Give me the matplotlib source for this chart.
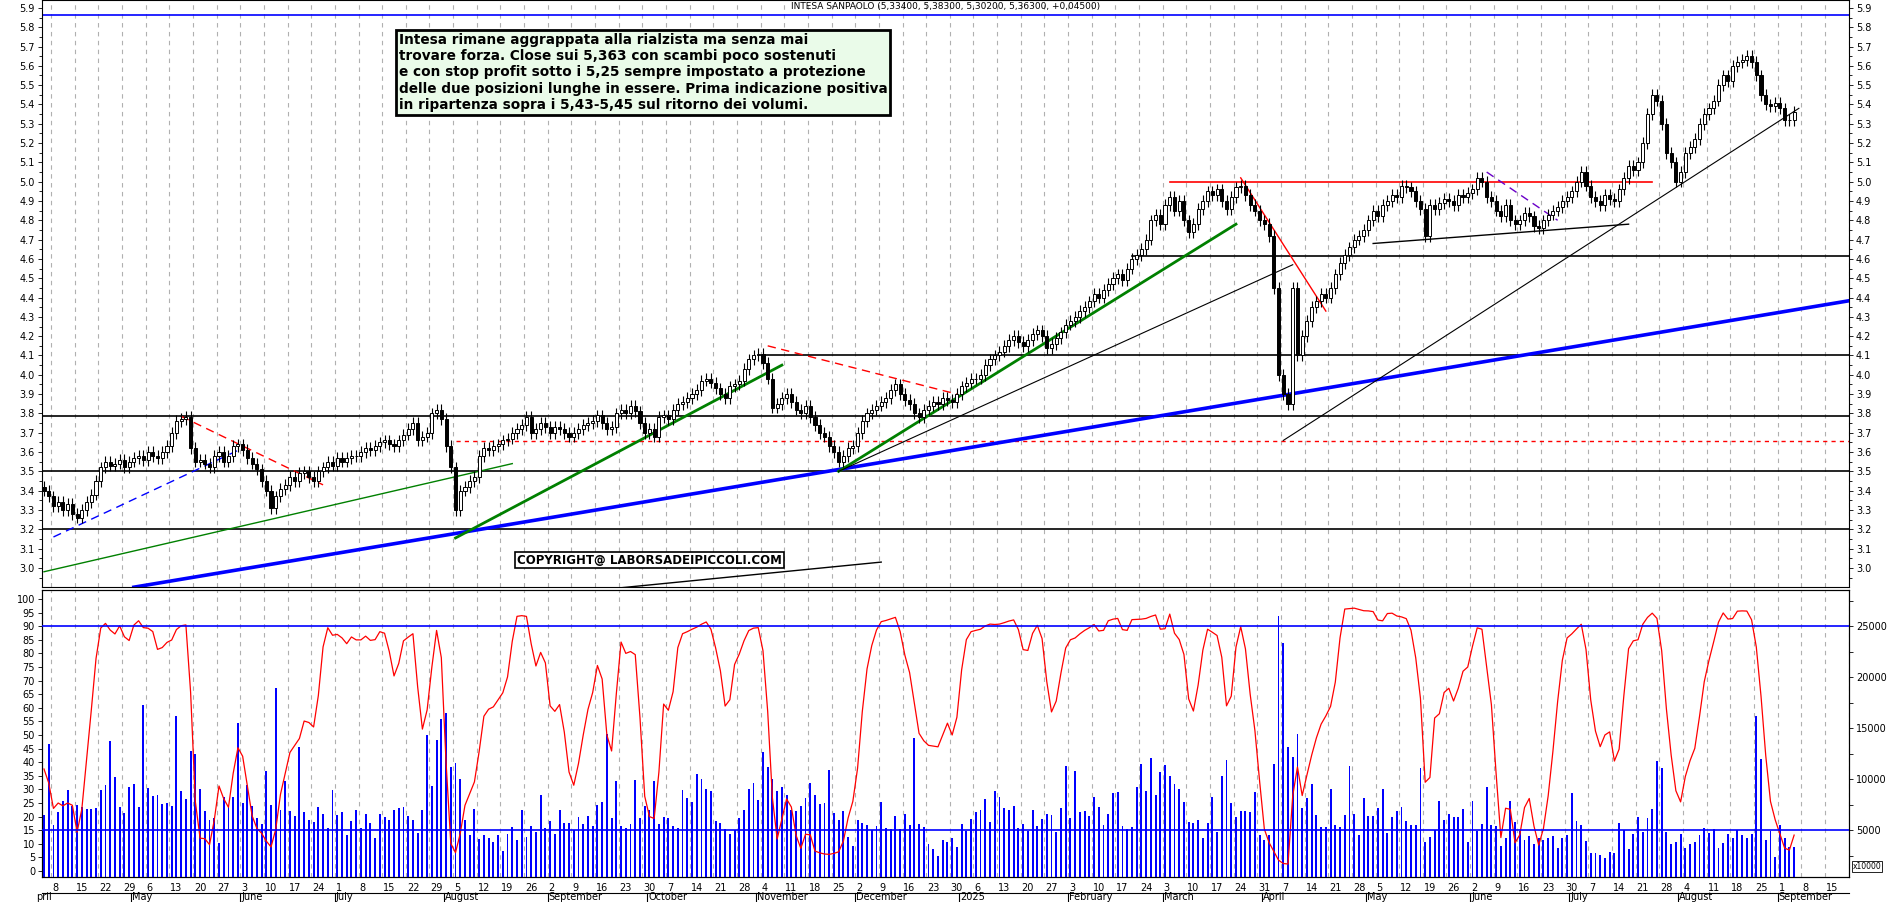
import matplotlib
matplotlib.use("Agg")
import matplotlib.pyplot as plt
import numpy as np
import pandas as pd

start = "2024-04-04"

# daily closes, week by week (Mon..Fri)
closes = [
    3.40, 3.37,
    3.32, 3.34, 3.30, 3.33, 3.28,  # apr 8
    3.26, 3.30, 3.34, 3.38, 3.45,
    3.52, 3.55, 3.53, 3.54, 3.56,
    3.52, 3.55, 3.57, 3.58, 3.56,
    3.60, 3.58, 3.57, 3.60, 3.63,  # may 6
    3.70, 3.76, 3.77, 3.78, 3.62,
    3.55, 3.56, 3.54, 3.52, 3.58,
    3.60, 3.55, 3.58, 3.63, 3.64,
    3.61, 3.57, 3.54, 3.51, 3.45,  # jun 3
    3.40, 3.31, 3.37, 3.41, 3.43,
    3.47, 3.45, 3.49, 3.50, 3.47,
    3.45, 3.50, 3.52, 3.55, 3.53,
    3.57, 3.55, 3.57, 3.58, 3.58,  # jul 1
    3.60, 3.62, 3.61, 3.63, 3.65,
    3.66, 3.64, 3.63, 3.66, 3.69,
    3.72, 3.75, 3.66, 3.68, 3.70,
    3.80, 3.82, 3.77, 3.63, 3.52,
    3.30, 3.40, 3.42, 3.45, 3.47,  # aug 5
    3.58, 3.62, 3.61, 3.63, 3.64,
    3.66, 3.67, 3.70, 3.72, 3.74,
    3.78, 3.70, 3.72, 3.75, 3.73,
    3.70, 3.73, 3.72, 3.70, 3.68,  # sep 2
    3.70, 3.72, 3.74, 3.75, 3.76,
    3.79, 3.75, 3.72, 3.73, 3.80,
    3.82, 3.80, 3.84, 3.81, 3.75,
    3.70, 3.72, 3.68, 3.78, 3.79,
    3.77, 3.82, 3.85, 3.86, 3.88,  # oct 7
    3.90, 3.92, 3.97, 3.98, 3.96,
    3.93, 3.90, 3.88, 3.94, 3.95,
    3.97, 4.03, 4.08, 4.10, 4.11,
    4.06, 3.98, 3.83, 3.85, 3.88,  # nov 4
    3.90, 3.86, 3.82, 3.80, 3.84,
    3.78, 3.74, 3.70, 3.68, 3.63,
    3.60, 3.55, 3.58, 3.62, 3.63,
    3.70, 3.76, 3.80, 3.82, 3.84,  # dec 2
    3.86, 3.88, 3.92, 3.95, 3.90,
    3.87, 3.85, 3.80, 3.78, 3.82,
    3.84, 3.86, 3.85, 3.88, 3.87,
    3.86, 3.90, 3.94, 3.96, 3.98,
    3.98, 4.00, 4.05, 4.08, 4.10,  # jan 6
    4.12, 4.15, 4.18, 4.20, 4.17,
    4.15, 4.18, 4.21, 4.23, 4.20,
    4.14, 4.16, 4.19, 4.22, 4.26,
    4.28, 4.30, 4.33, 4.35, 4.38,  # feb 3
    4.42, 4.40, 4.44, 4.47, 4.50,
    4.52, 4.49, 4.55, 4.60, 4.62,
    4.65, 4.70, 4.80, 4.83, 4.78,
    4.88, 4.92, 4.85, 4.90, 4.80,  # mar 3
    4.74, 4.78, 4.86, 4.90, 4.95,
    4.93, 4.96, 4.90, 4.86, 4.92,
    4.97, 4.98, 4.93, 4.88, 4.85,
    4.80, 4.78, 4.72, 4.45, 4.00,
    3.90, 3.85, 4.45, 4.10, 4.20,  # apr 7
    4.28, 4.35, 4.38, 4.42, 4.40,
    4.45, 4.52, 4.58, 4.62, 4.66,
    4.70, 4.72, 4.75, 4.80, 4.85,
    4.82, 4.88, 4.90, 4.93, 4.92,  # may 5
    4.98, 4.97, 4.95, 4.90, 4.86,
    4.72, 4.88, 4.86, 4.89, 4.91,
    4.90, 4.88, 4.93, 4.92, 4.94,
    4.96, 5.02, 5.00, 4.92, 4.90,  # jun 2
    4.85, 4.82, 4.88, 4.80, 4.78,
    4.80, 4.84, 4.82, 4.77, 4.76,
    4.80, 4.83, 4.85, 4.87, 4.90,
    4.92, 4.95, 5.00, 5.05, 4.98,
    4.92, 4.90, 4.88, 4.93, 4.91,  # jul 7
    4.90, 4.96, 5.02, 5.08, 5.06,
    5.10, 5.20, 5.35, 5.45, 5.42,
    5.30, 5.15, 5.10, 5.00, 5.05,
    5.15, 5.18, 5.22, 5.30, 5.35,  # aug 4
    5.38, 5.42, 5.50, 5.55, 5.52,
    5.60, 5.62, 5.63, 5.65, 5.62,
    5.55, 5.45, 5.40, 5.39, 5.41,
    5.38, 5.32, 5.32, 5.363,
]

# volumes (x10000 shares)
volumes = [
    6500, 13500,
    5500, 6800, 7900, 8900, 7400,
    7500, 7300, 7100, 7100, 7200,
    8900, 9400, 13700, 10200, 7300,
    6700, 9200, 9500, 7300, 17300,
    9100, 8400, 8500, 7600, 7700,
    7400, 16200, 8800, 8100, 12800,
    12500, 9000, 6900, 6000, 6200,
    3700, 8300, 7400, 8300, 15500,
    7700, 9400, 7400, 6200, 5600,
    10800, 7500, 18900, 7000, 9800,
    6900, 6400, 13200, 6800, 6000,
    5800, 7300, 6600, 5200, 8900,
    6500, 6800, 4500, 5900, 7000,
    5200, 6600, 5700, 4200, 6600,
    6300, 6000, 7000, 7200, 7300,
    6400, 6000, 4700, 7000, 14300,
    9300, 13800, 15900, 16500, 11200,
    11600, 10000, 6000, 4500, 7100,
    4100, 4500, 4200, 3800, 4500,
    3000, 4600, 5300, 4000, 7000,
    4300, 5400, 4800, 8500, 5200,
    5900, 4600, 7000, 5700, 5700,
    5000, 6300, 5600, 6400, 5400,
    7500, 7800, 14400, 6200, 9800,
    5400, 5200, 5600, 9900, 6200,
    7400, 7000, 9800, 5600, 6300,
    6200, 5400, 5200, 8900, 8200,
    7800, 10500, 10000, 9000, 8800,
    5900, 5700, 5100, 4600, 5000,
    6200, 7000, 9000, 9600, 8000,
    12700, 11200, 10000, 8800, 9200,
    8500, 7000, 6900, 7400, 8200,
    9600, 8500, 7600, 7700, 10900,
    6700, 6000, 6900, 4300, 3500,
    6000, 5700, 5500, 5000, 5400,
    7800, 5200, 5100, 6400, 5100,
    6600, 5500, 14000, 5600, 5300,
    3600, 3200, 2500, 4000, 3800,
    4200, 3400, 5600, 4900, 6100,
    6800, 7000, 8100, 5800, 8800,
    8300, 7200, 7000, 7400, 5200,
    5600, 4900, 7000, 5400, 6100,
    6600, 6500, 4800, 7200, 11300,
    6200, 10800, 6800, 6900, 6400,
    8300, 7300, 5500, 6600, 8600,
    8700, 5400, 5100, 5300, 9200,
    11500, 8800, 12100, 8500, 10700,
    11400, 10300, 9500, 9000, 7800,
    5800, 5700, 6000, 4200, 5700,
    8300, 4800, 10300, 11900, 7700,
    6300, 6900, 6900, 6800, 8700,
    4500, 4000, 4500, 11500, 26000,
    23400, 13200, 12200, 14400, 7200,
    8200, 9500, 6500, 5300, 5300,
    9000, 5500, 5300, 6500, 11300,
    6600, 4500, 8200, 6400, 6400,
    7200, 9000, 4700, 6300, 6900,
    7300, 5900, 5500, 5500, 11100,
    3800, 4300, 5000, 7900, 6000,
    6600, 6300, 6300, 7100, 3800,
    7900, 4900, 5600, 9200, 5500,
    5400, 3500, 4200, 7900, 5800,
    4900, 4000, 4400, 3600, 4200,
    4000, 4200, 4400, 3300, 4200,
    4500, 8600, 5900, 5500, 3900,
    2800, 2800, 2600, 2300, 2900,
    2800, 5700, 5000, 3200, 4600,
    6300, 4800, 6200, 7100, 11800,
    11100, 4800, 3600, 3800, 4600,
    3300, 3600, 3800, 4500, 5200,
    4700, 5100, 3300, 3700, 4600,
    4200, 5000, 4500, 4200, 4600,
    16200, 12000, 4000, 4900, 2400,
    5500, 4200, 3400, 3400,
]

# trendlines: date1, price1, date2, price2, colour, width, style
trendlines = [
    ("2024-04-08", 3.16, "2024-06-03", 3.62, "blue", 1.0, (0, (6, 4))),
    ("2024-04-04", 2.98, "2024-08-21", 3.54, "green", 1.0, "-"),
    ("2024-05-15", 3.785, "2024-06-26", 3.43, "red", 1.0, (0, (6, 4))),
    ("2024-05-01", 2.90, "2025-09-22", 4.385, "blue", 2.6, "-"),
    ("2024-08-05", 3.155, "2024-11-08", 4.05, "green", 2.0, "-"),
    ("2024-11-05", 4.15, "2024-12-31", 3.90, "red", 1.0, (0, (6, 4))),
    ("2024-11-26", 3.50, "2025-03-24", 4.78, "green", 2.0, "-"),
    ("2024-11-26", 3.50, "2025-04-09", 4.57, "black", 0.8, "-"),
    ("2025-03-25", 5.02, "2025-04-18", 4.33, "red", 1.0, "-"),
    ("2025-04-07", 3.66, "2025-09-05", 5.38, "black", 0.8, "-"),
    ("2025-05-02", 4.68, "2025-07-17", 4.78, "black", 1.0, "-"),
    ("2025-06-05", 5.05, "2025-06-26", 4.80, "#6a00c8", 1.0, (0, (6, 4))),
    ("2024-09-16", 2.885, "2024-12-09", 3.03, "black", 1.0, "-"),
]

# horizontal levels: price, from, to, colour, width, style
levels = [
    (5.865, "2024-04-01", "2025-09-30", "blue", 1.2, "-"),
    (3.785, "2024-04-01", "2025-09-30", "black", 1.2, "-"),
    (3.50, "2024-04-01", "2025-09-30", "black", 1.2, "-"),
    (3.20, "2024-04-01", "2025-09-30", "black", 1.2, "-"),
    (3.655, "2024-08-05", "2025-09-30", "red", 1.0, (0, (3, 3))),
    (4.10, "2024-11-04", "2025-09-30", "black", 1.2, "-"),
    (4.615, "2025-02-20", "2025-09-30", "black", 1.2, "-"),
    (5.00, "2025-03-04", "2025-07-24", "red", 1.2, "-"),
]

note = ("Intesa rimane aggrappata alla rialzista ma senza mai\n"
        "trovare forza. Close sui 5,363 con scambi poco sostenuti\n"
        "e con stop profit sotto i 5,25 sempre impostato a protezione\n"
        "delle due posizioni lunghe in essere. Prima indicazione positiva\n"
        "in ripartenza sopra i 5,43-5,45 sul ritorno dei volumi.")
title = "INTESA SANPAOLO (5,33400, 5,38300, 5,30200, 5,36300, +0,04500)"
months_it = {1: "2025", 2: "February", 3: "March", 4: "April", 5: "May", 6: "June",
             7: "July", 8: "August", 9: "September", 10: "October",
             11: "November", 12: "December"}

dates = pd.bdate_range(start, periods=len(closes))
n = len(closes)
x = np.arange(n)


def pos(d):
    return len(pd.bdate_range(start, d)) - 1


c = np.array(closes)
o = np.r_[c[0] + 0.02, c[:-1]]
hi = np.maximum(o, c) + 0.03
lo = np.minimum(o, c) - 0.03

W, H = 1890, 902
fig = plt.figure(figsize=(W / 100, H / 100), dpi=100)
L, R = 42 / W, 1849 / W
ax = fig.add_axes([L, 1 - 587 / H, R - L, 587 / H])
ax2 = fig.add_axes([L, 1 - 877 / H, R - L, (877 - 590) / H])
xlim = (-0.42, 381.6)
fs = 7

# weekly grid
mondays = [i for i, d in enumerate(pd.bdate_range(start, periods=383)) if d.weekday() == 0]
for a in (ax, ax2):
    for m in mondays:
        a.axvline(m - 0.5, color="#b0b0b0", lw=0.8, ls=(0, (4, 4)), zorder=0)
    a.set_xlim(*xlim)
    a.set_xticks([])

# price pane
for lv in levels:
    ax.plot([pos(lv[1]), pos(lv[2])], [lv[0], lv[0]], color=lv[3], lw=lv[4], ls=lv[5], zorder=2)
for t in trendlines:
    ax.plot([pos(t[0]), pos(t[2])], [t[1], t[3]], color=t[4], lw=t[5], ls=t[6], zorder=2)
ax.vlines(x, lo, hi, color="black", lw=0.8, zorder=3)
up = c >= o
ax.bar(x[up], (c - o)[up], bottom=o[up], width=0.65, color="white", edgecolor="black", lw=0.7, zorder=4)
ax.bar(x[~up], (o - c)[~up], bottom=c[~up], width=0.65, color="black", edgecolor="black", lw=0.7, zorder=4)
ax.set_ylim(2.901, 5.941)
yt = np.round(np.arange(3.0, 5.95, 0.1), 1)
ax.set_yticks(yt)
ax.set_yticks(np.arange(2.95, 5.95, 0.05), minor=True)
ax.set_yticklabels([f"{v:.1f}" for v in yt], fontsize=fs)
ax.tick_params(axis="y", which="both", left=True, right=True, labelright=True,
               length=3, width=0.6, pad=2)
ax.tick_params(axis="y", which="minor", length=2)
ax.text(0.5, 0.997, title, transform=ax.transAxes, ha="center", va="top",
        fontsize=6.5, fontfamily="Liberation Sans Narrow")
ax.text(pos("2024-07-18"), 5.77, note, ha="left", va="top", fontsize=9.8,
        fontweight="bold", fontfamily="Liberation Sans Narrow", linespacing=1.2,
        bbox=dict(boxstyle="square,pad=0.2", fc="#eafbe9", ec="black", lw=2), zorder=6)
ax.text(pos("2024-08-22"), 3.04, "COPYRIGHT@ LABORSADEIPICCOLI.COM", ha="left", va="center",
        fontsize=8.5, fontweight="bold", fontfamily="Liberation Sans Narrow",
        bbox=dict(boxstyle="square,pad=0.15", fc="white", ec="black", lw=1.2), zorder=6)

# lower pane: oscillator (left) and volumes (right)
hh = pd.Series(hi).rolling(14, min_periods=1).max()
ll = pd.Series(lo).rolling(14, min_periods=1).min()
k = (100 * (pd.Series(c) - ll) / (hh - ll)).rolling(2, min_periods=1).mean()
ax2.set_ylim(-2.2, 103.3)
axv = ax2.twinx()
axv.set_ylim(1000 - 2.2 * 266.7, 1000 + 103.3 * 266.7)
axv.set_xlim(*xlim)
axv.bar(x, np.array(volumes) - axv.get_ylim()[0], bottom=axv.get_ylim()[0], width=0.4,
        color="blue", zorder=3)
ax2.set_zorder(axv.get_zorder() + 1)
ax2.patch.set_visible(False)
ax2.plot(x, k, color="red", lw=0.9, zorder=4)
ax2.axhline(90, color="blue", lw=1.2, zorder=5)
ax2.axhline(15, color="blue", lw=1.2, zorder=5)
ax2.set_yticks(range(0, 101, 5))
ax2.set_yticklabels([str(v) for v in range(0, 101, 5)], fontsize=fs)
ax2.tick_params(axis="y", length=3, width=0.6, pad=2)
axv.set_yticks(range(5000, 25001, 5000))
axv.set_yticklabels([str(v) for v in range(5000, 25001, 5000)], fontsize=fs)
axv.set_yticks(range(2500, 28000, 2500), minor=True)
axv.tick_params(axis="y", which="both", length=3, width=0.6, pad=2)
axv.set_xticks([])
axv.text(1.002, 0.02, "x10000", transform=axv.transAxes, fontsize=5.5, ha="left", va="bottom",
         bbox=dict(boxstyle="square,pad=0.1", fc="white", ec="black", lw=0.6))

# date labels
alld = pd.bdate_range(start, periods=383)
for m in mondays:
    if m - 0.5 < xlim[1] - 4:
        fig.text(L + (m - 0.3 - xlim[0]) / (xlim[1] - xlim[0]) * (R - L), 1 - 888 / H,
                 str(alld[m].day), fontsize=fs, ha="left", va="center")
prev = alld[0].month
for i, d in enumerate(alld):
    if d.month != prev:
        prev = d.month
        xf = L + (i - 0.5 - xlim[0]) / (xlim[1] - xlim[0]) * (R - L)
        fig.add_artist(plt.Line2D([xf, xf], [1 - 893 / H, 1 - 902 / H], color="black", lw=0.8))
        fig.text(xf + 0.0005, 1 - 897 / H, months_it[d.month], fontsize=fs, ha="left", va="center")
fig.text(L - 0.003, 1 - 897 / H, "pril", fontsize=fs, ha="left", va="center")
fig.add_artist(plt.Line2D([L, R], [1 - 893 / H, 1 - 893 / H], color="black", lw=0.8))

fig.savefig("out.png", dpi=100)
